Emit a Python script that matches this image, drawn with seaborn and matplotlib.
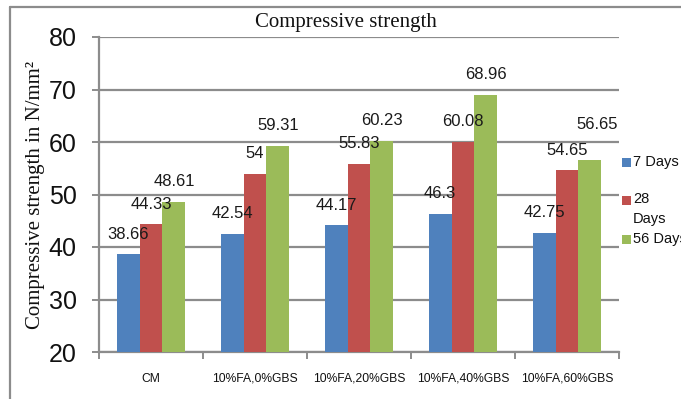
import matplotlib
matplotlib.use("Agg")
import matplotlib.pyplot as plt
import matplotlib.patches as mpatches
import matplotlib.lines as mlines
import seaborn as sns
import pandas as pd

# Mix designs and compressive strength (N/mm²) at each curing age
categories = ["CM", "10%FA,0%GBS", "10%FA,20%GBS", "10%FA,40%GBS", "10%FA,60%GBS"]
series = ["7 Days", "28 Days", "56 Days"]
days7 = [38.66, 42.54, 44.17, 46.3, 42.75]
days28 = [44.33, 54, 55.83, 60.08, 54.65]
days56 = [48.61, 59.31, 60.23, 68.96, 56.65]
yticks = [20, 30, 40, 50, 60, 70, 80]

colors = ["#4F81BD", "#C0504D", "#9BBB59"]
grid_gray = "#8C8C8C"

df = pd.DataFrame({
    "mix": categories * 3,
    "age": [s for s in series for _ in categories],
    "strength": days7 + days28 + days56,
})

sns.set_theme(style="white")
plt.rcParams["font.family"] = ["Liberation Sans", "DejaVu Sans"]

fig = plt.figure(figsize=(6.81, 3.99), dpi=100)
ax = fig.add_axes([99 / 681, 1 - 352 / 399, 520 / 681, 315 / 399])

sns.barplot(data=df, x="mix", y="strength", hue="age", order=categories,
            hue_order=series, palette=colors, width=0.66, gap=0,
            saturation=1, ax=ax, legend=False, zorder=3)

label_sets = []
for cont in ax.containers:
    for bar in cont:
        bar.set_edgecolor("none")
    label_sets.append(ax.bar_label(cont, labels=[f"{b.get_height():g}" for b in cont],
                                   padding=9, fontsize=12, color="#1a1a1a", zorder=4))

# lift the last 56-day label clear of its 28-day neighbour
label_sets[2][-1].xyann = (5, 20)

ax.set_ylim(20, 80)
ax.set_yticks(yticks)
ax.set_xlim(-0.5, len(categories) - 0.5)
ax.yaxis.grid(True, color=grid_gray, linewidth=1.6, zorder=0)
ax.set_axisbelow(True)

for side in ["top", "right"]:
    ax.spines[side].set_visible(False)
for side in ["left", "bottom"]:
    ax.spines[side].set_color(grid_gray)
    ax.spines[side].set_linewidth(1.6)

ax.set_xlabel("")
ax.set_ylabel("Compressive strength in N/mm²", family="Liberation Serif",
              fontsize=15, color="#111111", labelpad=3)
ax.tick_params(axis="y", which="major", length=5, width=1.4, color=grid_gray,
               direction="out", left=True, labelsize=18, pad=11, labelcolor="#111111")
ax.set_xticks([i - 0.5 for i in range(len(categories) + 1)], minor=True)
ax.tick_params(axis="x", which="minor", length=5, width=1.4, color=grid_gray,
               direction="out", bottom=True)
ax.tick_params(axis="x", which="major", length=0, labelsize=8.7, pad=15,
               labelcolor="#111111")

fig.text(346 / 681, 1 - 23 / 399, "Compressive strength", family="Liberation Serif",
         fontsize=15, ha="center", va="center", color="#111111")

# Legend entries on the right side
legend_rows = [(series[0], 162, 162), (series[1], 200, 209), (series[2], 239, 239)]
for (name, sq_y, txt_y), col in zip(legend_rows, colors):
    fig.patches.append(mpatches.Rectangle((622 / 681, 1 - (sq_y + 4.5) / 399),
                                          9 / 681, 9 / 399, transform=fig.transFigure,
                                          facecolor=col, edgecolor="none"))
    label = "28\nDays" if name == "28 Days" else name
    fig.text(633 / 681, 1 - txt_y / 399, label, fontsize=10.5, ha="left", va="center",
             color="#111111", linespacing=1.6)

# Outer chart frame
fig.add_artist(mlines.Line2D([10 / 681, 10 / 681], [0, 1 - 7 / 399],
                             transform=fig.transFigure, color=grid_gray, linewidth=1.6))
fig.add_artist(mlines.Line2D([10 / 681, 1], [1 - 7 / 399, 1 - 7 / 399],
                             transform=fig.transFigure, color=grid_gray, linewidth=1.6))

fig.savefig("out.png", dpi=100)
